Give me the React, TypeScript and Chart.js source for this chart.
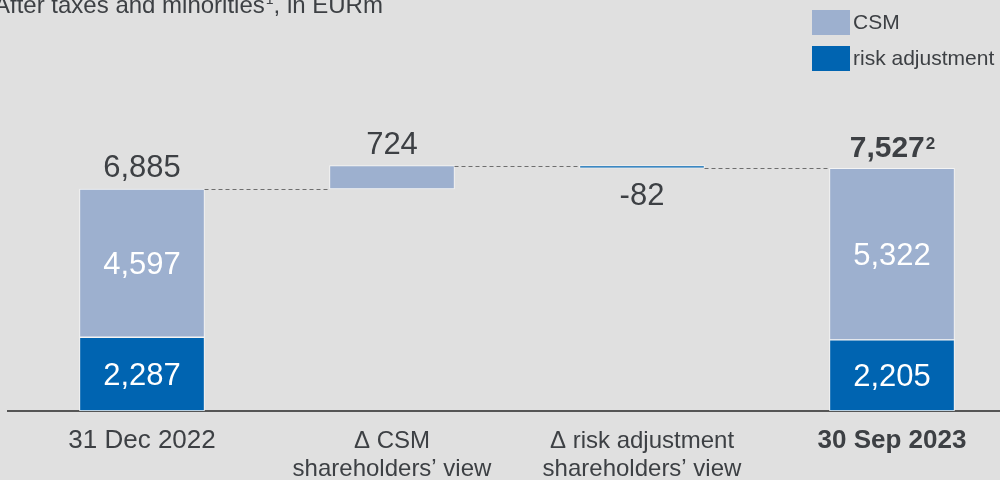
import React, { useEffect, useRef } from "react";
import { Chart, registerables } from "chart.js";

Chart.register(...registerables);

// ---- data ----
const categories: string[][] = [
  ["31 Dec 2022"],
  ["Δ CSM", "shareholders’ view"],
  ["Δ risk adjustment", "shareholders’ view"],
  ["30 Sep 2023"],
];
const kinds = ["total", "delta", "delta", "total"];
const csmValues = [4597, 724, 0, 5322];
const riskValues = [2287, 0, -82, 2205];
const totalValues = [6885, 724, -82, 7527];
const totalLabels = ["6,885", "724", "-82", "7,527"];
const csmLabels = ["4,597", "", "", "5,322"];
const riskLabels = ["2,287", "", "", "2,205"];

const CSM_COLOR = "#9db0cf";
const RISK_COLOR = "#0064b1";
const TEXT = "#3d4044";
const FONT = "'Liberation Sans', Arial, sans-serif";

// build floating ranges (waterfall)
const csmRanges: ({ x: number; y: [number, number] } | null)[] = [];
const riskRanges: ({ x: number; y: [number, number] } | null)[] = [];
const levels: number[] = [];
let running = 0;
kinds.forEach((k, i) => {
  if (k === "total") {
    const r = riskValues[i];
    const t = totalValues[i];
    riskRanges.push({ x: i, y: [0, r] });
    csmRanges.push({ x: i, y: [r, t] });
    running = t;
  } else {
    const c = csmValues[i];
    const r = riskValues[i];
    if (c !== 0) {
      csmRanges.push({ x: i, y: [running, running + c] });
      running += c;
    } else csmRanges.push(null);
    if (r !== 0) {
      riskRanges.push({ x: i, y: [running + r, running] });
      running += r;
    } else riskRanges.push(null);
  }
  levels.push(running);
});

const overlay = {
  id: "overlay",
  afterDatasetsDraw(chart: any) {
    const { ctx } = chart;
    const xs = chart.scales.x;
    const ys = chart.scales.y;
    const half = 62.5;
    ctx.save();
    // connectors
    ctx.strokeStyle = "#6e6e6e";
    ctx.lineWidth = 1;
    ctx.setLineDash([4, 3]);
    for (let i = 0; i < levels.length - 1; i++) {
      const y = Math.round(ys.getPixelForValue(levels[i])) + 0.5;
      ctx.beginPath();
      ctx.moveTo(xs.getPixelForValue(i) + half, y);
      ctx.lineTo(xs.getPixelForValue(i + 1) - half, y);
      ctx.stroke();
    }
    ctx.setLineDash([]);

    // value labels
    ctx.textAlign = "center";
    ctx.textBaseline = "alphabetic";
    let prev = 0;
    kinds.forEach((k, i) => {
      const x = xs.getPixelForValue(i);
      const v = totalValues[i];
      const top = k === "total" ? v : Math.max(prev, prev + v);
      const bottom = k === "total" ? 0 : Math.min(prev, prev + v);
      if (k === "total" && i === kinds.length - 1) {
        ctx.fillStyle = TEXT;
        ctx.font = `bold 30px ${FONT}`;
        const w = ctx.measureText(totalLabels[i]).width;
        ctx.font = `bold 17px ${FONT}`;
        const w2 = ctx.measureText("2").width;
        const start = x - (w + w2) / 2;
        const base = ys.getPixelForValue(top) - 11;
        ctx.textAlign = "left";
        ctx.font = `bold 30px ${FONT}`;
        ctx.fillText(totalLabels[i], start, base);
        ctx.font = `bold 17px ${FONT}`;
        ctx.fillText("2", start + w + 1, base - 8);
        ctx.textAlign = "center";
      } else if (v >= 0) {
        ctx.fillStyle = TEXT;
        ctx.font = `31px ${FONT}`;
        ctx.fillText(totalLabels[i], x, ys.getPixelForValue(top) - 12);
      } else {
        ctx.fillStyle = TEXT;
        ctx.font = `31px ${FONT}`;
        ctx.fillText(totalLabels[i], x, ys.getPixelForValue(bottom) + 37);
      }
      if (k === "total") {
        ctx.fillStyle = "#ffffff";
        ctx.font = `31px ${FONT}`;
        ctx.textBaseline = "middle";
        const r = riskValues[i];
        ctx.fillText(riskLabels[i], x, (ys.getPixelForValue(0) + ys.getPixelForValue(r)) / 2 + 2);
        ctx.fillText(csmLabels[i], x, (ys.getPixelForValue(r) + ys.getPixelForValue(v)) / 2 + 2);
        ctx.textBaseline = "alphabetic";
      }
      prev = levels[i];
    });

    // title
    ctx.textAlign = "left";
    ctx.fillStyle = TEXT;
    ctx.font = `24px ${FONT}`;
    const t1 = "After taxes and minorities";
    let tx = -6;
    const ty = 13;
    ctx.fillText(t1, tx, ty);
    tx += ctx.measureText(t1).width;
    ctx.font = `14px ${FONT}`;
    ctx.fillText("1", tx + 1, ty - 9);
    tx += ctx.measureText("1").width + 1;
    ctx.font = `24px ${FONT}`;
    ctx.fillText(", in EURm", tx, ty);

    // legend
    const items = [
      { label: chart.data.datasets[1].label, color: CSM_COLOR, y: 10 },
      { label: chart.data.datasets[0].label, color: RISK_COLOR, y: 46 },
    ];
    ctx.font = `21px ${FONT}`;
    ctx.textBaseline = "middle";
    items.forEach((it) => {
      ctx.fillStyle = it.color;
      ctx.fillRect(812, it.y, 38, 25);
      ctx.fillStyle = TEXT;
      ctx.fillText(it.label, 853, it.y + 13);
    });
    ctx.restore();
  },
};

export default function App() {
  const ref = useRef<HTMLCanvasElement>(null);
  useEffect(() => {
    const canvas = ref.current!;
    const chart = new Chart(canvas, {
      type: "bar",
      data: {
        datasets: [
          {
            label: "risk adjustment",
            data: riskRanges.filter((d) => d !== null) as any,
            backgroundColor: RISK_COLOR,
            borderColor: "#f4f4f4",
            borderWidth: 1,
            borderSkipped: false,
            barThickness: 125,
            grouped: false,
          } as any,
          {
            label: "CSM",
            data: csmRanges.filter((d) => d !== null) as any,
            backgroundColor: CSM_COLOR,
            borderColor: "#f4f4f4",
            borderWidth: 1,
            borderSkipped: false,
            barThickness: 125,
            grouped: false,
          } as any,
        ],
      },
      options: {
        animation: false,
        responsive: false,
        maintainAspectRatio: false,
        layout: { padding: { left: 8, right: 0, top: 0, bottom: 0 } },
        plugins: { legend: { display: false }, tooltip: { enabled: false } },
        scales: {
          x: {
            type: "linear",
            offset: false,
            min: -0.536,
            max: 3.432,
            grid: { display: false, drawTicks: false, offset: false },
            border: { display: true, color: "#555555", width: 2 },
            afterBuildTicks: (scale: any) => {
              scale.ticks = categories.map((_, i) => ({ value: i }));
            },
            afterFit: (scale: any) => {
              scale.height = 69;
            },
            ticks: {
              padding: 16,
              color: TEXT,
              autoSkip: false,
              maxRotation: 0,
              font: (ctx: any) => {
                const isDelta = categories[ctx.index] && categories[ctx.index].length > 1;
                return {
                  family: FONT,
                  size: isDelta ? 24 : 26,
                  weight: ctx.index === categories.length - 1 ? "bold" : "normal",
                  lineHeight: isDelta ? 1.17 : 1.1,
                };
              },
              callback: (_v: any, i: number) => categories[i],
            },
          },
          y: { display: false, min: 0, max: 12744 },
        },
      } as any,
      plugins: [overlay],
    });
    return () => chart.destroy();
  }, []);
  return (
    <div style={{ position: "fixed", left: 0, top: 0, width: 1000, height: 480, background: "#e0e0e0" }}>
      <canvas ref={ref} width={1000} height={480} style={{ display: "block", width: 1000, height: 480 }} />
    </div>
  );
}
